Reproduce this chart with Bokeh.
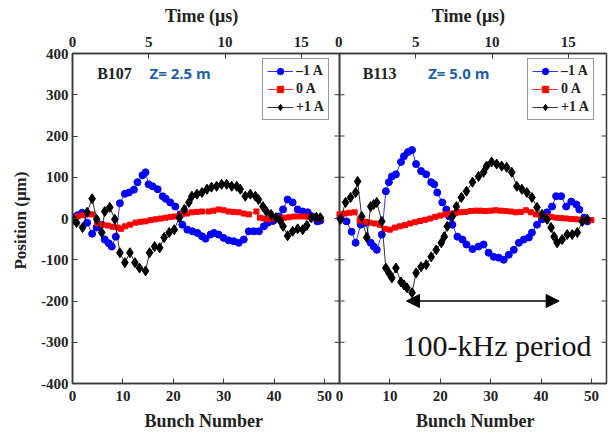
from bokeh.plotting import figure
from bokeh.models import (Range1d, LinearAxis, FixedTicker, CustomJSTickFormatter, AllLabels,
                          Legend, LegendItem, Label, Arrow, NormalHead)
from bokeh.embed import file_html
from bokeh.resources import INLINE

# ---------------- data ----------------
BUNCH_SPAN = 53.0      # bunch-number span of each panel
TIME_SPAN = 17.5       # time span (us) of each panel

y_ticks = [-400, -300, -200, -100, 0, 100, 200, 300, 400]
bunch_ticks = [0, 10, 20, 30, 40, 50]
time_ticks = [0, 5, 10, 15]

x_title = "Bunch Number"
top_title = "Time  (\u03bcs)"
y_title = "Position  (\u03bcm)"
legend_labels = ["\u20131 A", "0 A", "+1 A"]

# Panel 1 : B107, Z = 2.5 m
b107_m1_x = [0.2, 1, 1.9, 2.9, 3.9, 4.8, 5.7, 6.4, 7.2, 7.8, 8.6, 9.4, 10.4, 11.2, 12.2,
             12.9, 13.9, 14.5, 15.1, 15.9, 16.9, 17.9, 18.5, 19.4, 20.4, 21.4, 21.8, 22.8,
             23.8, 24.8, 25.7, 26.4, 27.4, 28.1, 29, 30, 31, 32, 33, 34, 35, 36, 37, 38,
             38.8, 39.8, 41, 41.8, 42.7, 43.7, 44.7, 45.7, 46.7, 47.6, 48.6, 49.2]
b107_m1_y = [2, 8, 14, -10, -37, -22, -15, -51, -60, -68, -44, 37, 60, 63, 70,
             88, 105, 112, 83, 78, 71, 54, 48, 39, 29, 10, -15, -27,
             -31, -35, -43, -49, -39, -35, -39, -47, -53, -55, -59, -51, -31, -31, -31, -19,
             -10, -6, 5, 22, 46, 39, 22, 17, 15, 5, -7, -5]

b107_0_x = [0.2, 1, 2, 3, 3.9, 4.9, 6, 7, 8, 9, 9.6, 10.4, 11.4, 12.5, 13.5, 14.5, 15.5,
            16.5, 17.5, 18.5, 19.5, 20.4, 21.7, 22.7, 23.7, 24.7, 25.7, 27, 28, 29, 30, 31,
            32, 33, 34, 35, 36.5, 37.2, 38, 38.8, 40, 40.8, 42, 43, 44, 45, 46, 47, 48, 49.2]
b107_0_y = [0, 5, 8, 10, 10, -12, -15, -17, -20, -22, -25, -19, -15, -10, -8, -7, -4,
            -2, 0, 2, 4, 5, 10, 12, 15, 16, 17, 17, 19, 22, 20, 17,
            16, 15, 12, 10, 17, 2, 0, -2, 0, 2, 2, 3, 5, 5, 5, 4, 2, 0]

b107_p1_x = [0.2, 0.8, 2, 2.9, 3.9, 4.8, 5.8, 6.4, 7.4, 8.4, 9.4, 10.4, 11.4, 12.4, 13.3,
             14.5, 15.3, 16.3, 17.3, 18.2, 19.2, 20.2, 21.2, 22.2, 23.1, 23.7, 24.7, 25.7,
             26.7, 27.6, 28.6, 29.6, 30.6, 31.6, 32.6, 33.3, 34.3, 35.3, 36.3, 36.9, 37.8,
             38.5, 39.4, 40.4, 41.2, 41.8, 42.7, 43.7, 44.7, 45.7, 46.5, 47.4, 48.4, 49.2]
b107_p1_y = [-2, -10, -22, 15, 48, -2, -34, 17, 27, -2, -83, -107, -83, -107, -120,
             -127, -83, -68, -71, -46, -34, -27, 2, 22, 39, 54, 59, 63,
             71, 76, 78, 83, 83, 78, 78, 71, 54, 59, 54, 46, 29,
             17, 10, 2, -5, -19, -42, -31, -25, -27, -17, 2, 3, 2]

# Panel 2 : B113, Z = 5.0 m
b113_m1_x = [0.2, 1.4, 2.4, 3.2, 4.2, 5.2, 6.2, 6.8, 7.4, 8.4, 9.2, 9.8, 10.4, 11.2, 12.2,
             12.8, 13.6, 14.4, 15.2, 16.2, 17.2, 18.2, 18.8, 19.4, 20.4, 21.2, 21.8, 22.4,
             23.4, 24.4, 25.2, 26.4, 27.6, 28.6, 29.6, 30.6, 31.6, 32.6, 33.6, 34.6, 35.6,
             36.6, 37.6, 38.2, 39.2, 40.2, 41.2, 42.2, 43, 44, 45, 46, 47, 47.6, 48.6, 49.2]
b113_m1_y = [2, -7, -32, -59, -15, -10, -59, -68, -76, -39, 66, 88, 102, 107, 137,
             151, 161, 166, 132, 115, 107, 88, 83, 63, 39, 22, 5, -15,
             -44, -51, -63, -74, -68, -63, -83, -93, -95, -100, -88, -76, -59,
             -51, -46, -34, -15, -2, 15, 29, 54, 54, 29, 41, 34, 22, 2, -7]

b113_0_x = list(range(0, 51))
b113_0_y = [10, 12, 14, 15, -5, -8, -10, -12, -15, -25,
            -27, -22, -19, -16, -12, -9, -6, -3, 0, 4,
            7, 10, 12, 13, 15, 16, 18, 19, 19, 18,
            19, 20, 19, 18, 17, 15, 16, 20, 15, 10,
            8, 5, 4, 2, 1, 0, -1, -2, -3, -3, -4]

b113_p1_x = [0.2, 1.2, 2.2, 3.2, 3.6, 4.4, 5.4, 6.2, 6.8, 7.4, 8.4, 9.2, 9.8, 10.4, 11.2,
             12.2, 12.8, 13.4, 14.4, 15.2, 16.2, 17.2, 18.2, 19.2, 20.2, 20.8, 21.4, 22.4,
             23.2, 24.2, 25.2, 26.4, 27.6, 28.6, 29.2, 30.2, 31.2, 32.2, 33.2, 34.2, 35.2,
             36.2, 37.2, 38.2, 39.2, 40.2, 41.2, 42, 42.6, 43.2, 44.2, 45.2, 46.2, 47.2,
             48.2, 49.2]
b113_p1_y = [-2, 39, 51, 63, 90, 5, -46, 29, 34, 39, -7, -120, -132, -144, -120,
             -154, -161, -168, -180, -132, -117, -112, -93, -76, -59, -44, -19, 5,
             29, 51, 66, 88, 102, 112, 127, 137, 132, 127, 124, 112, 78,
             71, 63, 51, 27, 10, -2, -22, -44, -59, -51, -39, -39, -34,
             -7, -2]

period_start, period_end, period_level = 13.3, 43.6, -200

# ---------------- styling ----------------
SERIF = "Liberation Serif"
AX = "#3a3a3a"
BLUE, RED, BLACK = "#0000ff", "#ff0000", "#000000"
NBSP = "\u00a0"

p = figure(width=614, height=433,
           x_range=Range1d(0, 2 * BUNCH_SPAN), y_range=Range1d(-400, 400),
           output_backend="svg", toolbar_location=None,
           min_border_left=72, min_border_right=8, min_border_top=53, min_border_bottom=48)
p.extra_x_ranges = {"right": Range1d(-BUNCH_SPAN, BUNCH_SPAN),
                    "time": Range1d(0, 2 * TIME_SPAN)}
p.grid.visible = False
p.outline_line_color = AX
p.outline_line_width = 1.5
p.background_fill_color = "white"
p.border_fill_color = "white"

def style_axis(ax):
    ax.axis_line_color = AX
    ax.axis_line_width = 1.5
    ax.major_tick_line_color = AX
    ax.major_tick_in = 5
    ax.major_tick_out = 0
    ax.minor_tick_in = 0
    ax.minor_tick_out = 0
    ax.major_label_text_font = SERIF
    ax.major_label_text_font_style = "bold"
    ax.major_label_text_font_size = "15px"
    ax.major_label_text_color = "#222222"
    ax.major_label_standoff = 4
    ax.major_label_policy = AllLabels()
    ax.axis_label_text_font = SERIF
    ax.axis_label_text_font_style = "bold"
    ax.axis_label_text_font_size = "18px"
    ax.axis_label_text_color = "#222222"
    ax.axis_label_standoff = 4

# the last tick of the left panel also carries the right panel's "0" label
split_code = """
    if (Math.abs(tick - last) < 0.01) {
        return pre + Math.round(tick).toString() + mid + "0";
    }
    if (tick > span - 0.01) {
        return Math.round(tick - span).toString();
    }
    return Math.round(tick).toString();"""
fmt_bunch = CustomJSTickFormatter(args=dict(span=BUNCH_SPAN, last=bunch_ticks[-1],
                                            pre=NBSP * 3, mid=NBSP), code=split_code)
fmt_time = CustomJSTickFormatter(args=dict(span=TIME_SPAN, last=time_ticks[-1],
                                           pre=NBSP * 9, mid=NBSP * 7), code=split_code)
fmt_y = CustomJSTickFormatter(code="return Math.round(tick).toString();")

# one title per panel, centred on each half of the frame
x_title_both = x_title + NBSP * 34 + x_title
top_title_both = top_title + NBSP * 43 + top_title

xb = p.xaxis[0]
xb.ticker = FixedTicker(ticks=bunch_ticks + [BUNCH_SPAN + t for t in bunch_ticks[1:]],
                        minor_ticks=[])
xb.formatter = fmt_bunch
style_axis(xb)
xb.axis_label = x_title_both

xt = LinearAxis(x_range_name="time",
                ticker=FixedTicker(ticks=time_ticks + [TIME_SPAN + t for t in time_ticks[1:]],
                                   minor_ticks=[]),
                formatter=fmt_time)
style_axis(xt)
xt.axis_label = top_title_both
xt.axis_label_standoff = 5
p.add_layout(xt, "above")

yl = p.yaxis[0]
yl.ticker = FixedTicker(ticks=y_ticks, minor_ticks=[])
yl.formatter = fmt_y
style_axis(yl)
yl.axis_label = y_title
yl.axis_label_text_font_size = "17px"
yl.axis_label_standoff = 8

# divider between the panels and inward ticks on the divider and the right edge
p.vspan(x=[BUNCH_SPAN], line_color=AX, line_width=2)
inner_ticks = y_ticks[1:-1]
p.scatter(x=[BUNCH_SPAN] * len(inner_ticks), y=inner_ticks, marker="dash",
          size=10, line_color=AX, line_width=1.2)
p.scatter(x=[2 * BUNCH_SPAN] * len(inner_ticks), y=inner_ticks, marker="dash",
          size=10, line_color=AX, line_width=1.2)

# ---------------- series ----------------
def draw(xs, ys, color, marker, size, rng):
    kw = {} if rng is None else {"x_range_name": rng}
    ln = p.line(xs, ys, line_color=color, line_width=1, line_alpha=0.8, **kw)
    sc = p.scatter(xs, ys, marker=marker, size=size, fill_color=color, line_color=color, **kw)
    return [ln, sc]

panels = [
    (None, [(b107_m1_x, b107_m1_y), (b107_0_x, b107_0_y), (b107_p1_x, b107_p1_y)], 190),
    ("right", [(b113_m1_x, b113_m1_y), (b113_0_x, b113_0_y), (b113_p1_x, b113_p1_y)], 455),
]
styles = [(BLUE, "circle", 7), (RED, "square", 5), (BLACK, "diamond", 10)]

for rng, series, leg_x in panels:
    items = []
    for (xs, ys), (col, mk, sz), lab in zip(series, styles, legend_labels):
        rs = draw(xs, ys, col, mk, sz, rng)
        items.append(LegendItem(label=lab, renderers=rs))
    leg = Legend(items=items, location=(leg_x, 263), orientation="vertical",
                 label_text_font=SERIF, label_text_font_style="bold",
                 label_text_font_size="14px", label_text_color="#222222",
                 glyph_width=26, glyph_height=16, label_height=16, spacing=2,
                 padding=4, margin=0, label_standoff=3,
                 border_line_color="#333333", border_line_width=1,
                 background_fill_color="white", background_fill_alpha=1)
    p.add_layout(leg)

# ---------------- texts ----------------
def lbl(x, y, text, rng=None, **kw):
    args = dict(x=x, y=y, text=text, **kw)
    if rng:
        args["x_range_name"] = rng
    p.add_layout(Label(**args))

lbl(4.9, 352, "B107", text_font=SERIF, text_font_style="bold", text_font_size="16px",
    text_color="#222222", text_baseline="middle")
lbl(15.3, 352, "Z= 2.5 m", text_font="Open Sans", text_font_style="bold",
    text_font_size="15px", text_color="#1f5ea8", text_baseline="middle")
lbl(4.6, 352, "B113", "right", text_font=SERIF, text_font_style="bold", text_font_size="16px",
    text_color="#222222", text_baseline="middle")
lbl(17.6, 352, "Z= 5.0 m", "right", text_font="Open Sans", text_font_style="bold",
    text_font_size="15px", text_color="#1f5ea8", text_baseline="middle")

p.add_layout(Arrow(x_start=period_start, y_start=period_level, x_end=period_end, y_end=period_level,
                   x_range_name="right", line_color="black", line_width=1.5,
                   start=NormalHead(size=13, fill_color="black", line_color="black"),
                   end=NormalHead(size=13, fill_color="black", line_color="black")))
lbl(12.5, -308, "100-kHz period", "right", text_font=SERIF, text_font_size="30px",
    text_color="#111111", text_baseline="alphabetic")

open("out.html", "w").write(file_html(p, INLINE))
